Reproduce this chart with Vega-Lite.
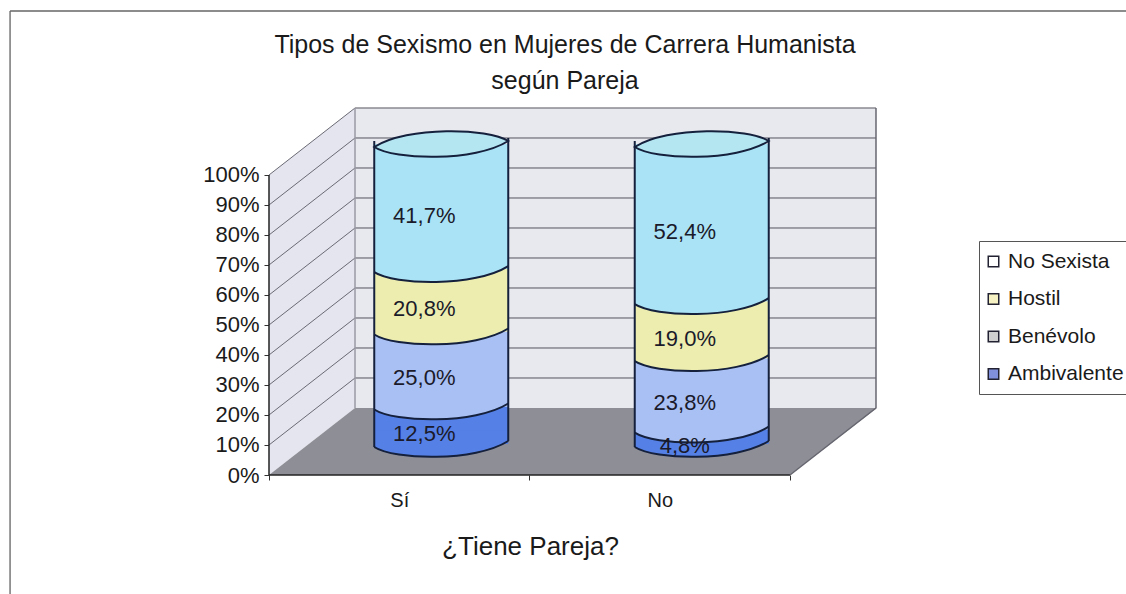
{
"$schema":"https://vega.github.io/schema/vega-lite/v6.json",
"width":608,"height":367,
"autosize":{"type":"none"},
"padding":{"left":269,"top":108,"right":249,"bottom":119},
"background":"#ffffff",
"title":{"text":["Tipos de Sexismo en Mujeres de Carrera Humanista","según  Pareja"],"font":"Liberation Sans","fontSize":25,"fontWeight":"normal","color":"#1a1a1a","anchor":"middle","frame":"group","dx":-8,"offset":0,"dy":84,"lineHeight":36},
"config":{"view":{"stroke":null},"font":"Liberation Sans"},
"datasets":{
"filas":[
{"pareja":"Sí","pos":0.5,"tipo":"Ambivalente","orden":1,"valor":12.5,"etiqueta":"12,5%"},
{"pareja":"Sí","pos":0.5,"tipo":"Benévolo","orden":2,"valor":25.0,"etiqueta":"25,0%"},
{"pareja":"Sí","pos":0.5,"tipo":"Hostil","orden":3,"valor":20.8,"etiqueta":"20,8%"},
{"pareja":"Sí","pos":0.5,"tipo":"No Sexista","orden":4,"valor":41.7,"etiqueta":"41,7%"},
{"pareja":"No","pos":1.5,"tipo":"Ambivalente","orden":1,"valor":4.8,"etiqueta":"4,8%"},
{"pareja":"No","pos":1.5,"tipo":"Benévolo","orden":2,"valor":23.8,"etiqueta":"23,8%"},
{"pareja":"No","pos":1.5,"tipo":"Hostil","orden":3,"valor":19.0,"etiqueta":"19,0%"},
{"pareja":"No","pos":1.5,"tipo":"No Sexista","orden":4,"valor":52.4,"etiqueta":"52,4%"}
],
"niveles":[{"v":10},{"v":20},{"v":30},{"v":40},{"v":50},{"v":60},{"v":70},{"v":80},{"v":90},{"v":100}],
"lateral":[{"d":0,"lo":0,"hi":100},{"d":0.33,"lo":22.33,"hi":122.33}],
"suelo":[{"d":0,"lo":0,"hi":0},{"d":0.33,"lo":0,"hi":22.33},{"d":2,"lo":0,"hi":22.33},{"d":2.334,"lo":22.33,"hi":22.33}],
"marco":[{"a":-0.994,"b":3.3,"c":154.7,"e":-39.7}]
},
"encoding":{
"x":{"type":"quantitative","title":"¿Tiene Pareja?","scale":{"domain":[0,2.334],"nice":false,"zero":false,"padding":0},"axis":{"values":[0,0.5,1,1.5,2],"title":"¿Tiene Pareja?","titleFont":"Liberation Sans","titleFontSize":26,"titleFontWeight":"normal","titleColor":"#1a1a1a","titleX":261,"titleY":71,"titleAlign":"center","titleBaseline":"middle","labelFont":"Liberation Sans","labelFontSize":20,"labelColor":"#1a1a1a","labelExpr":"datum.value==0.5?'Sí':datum.value==1.5?'No':''","labelFlush":false,"labelOverlap":false,"tickOpacity":{"condition":{"test":"datum.value==0.5||datum.value==1.5","value":0},"value":1},"tickColor":"#333333","tickSize":5,"labelPadding":10,"domain":false,"grid":false}},
"y":{"type":"quantitative","title":null,"scale":{"domain":[0,122.33],"nice":false,"zero":false},"axis":{"values":[0,10,20,30,40,50,60,70,80,90,100],"title":null,"labelFont":"Liberation Sans","labelFontSize":22,"labelColor":"#1a1a1a","labelExpr":"datum.label+'%'","labelOverlap":false,"tickColor":"#333333","tickSize":5,"labelPadding":5,"domain":false,"grid":false}}
},
"layer":[
{"data":{"name":"marco"},"mark":{"type":"rule","stroke":"#777777","strokeWidth":1.5},"encoding":{"x":{"field":"a"},"y":{"field":"e"},"y2":{"field":"c"}}},
{"data":{"name":"marco"},"mark":{"type":"rule","stroke":"#666666","strokeWidth":1.5},"encoding":{"x":{"field":"a"},"x2":{"field":"b"},"y":{"field":"c"}}},
{"data":{"name":"lateral"},"mark":{"type":"area","fill":"#e4e5ef"},"encoding":{"x":{"field":"d"},"y":{"field":"lo"},"y2":{"field":"hi"}}},
{"mark":{"type":"rect","fill":"#e8e8ef","xOffset":86,"x2Offset":86,"yOffset":-67,"y2Offset":-67},"data":{"values":[{}]},"encoding":{"x":{"datum":0},"x2":{"datum":2},"y":{"datum":0},"y2":{"datum":100}}},
{"data":{"name":"suelo"},"mark":{"type":"area","fill":"#8e8e96"},"encoding":{"x":{"field":"d"},"y":{"field":"lo"},"y2":{"field":"hi"}}},
{"data":{"name":"niveles"},"mark":{"type":"rule","stroke":"#55555f","strokeWidth":1,"xOffset":86,"x2Offset":86,"yOffset":-67},"encoding":{"x":{"datum":0},"x2":{"datum":2},"y":{"field":"v"}}},
{"data":{"name":"niveles"},"mark":{"type":"rule","stroke":"#6a6a74","strokeWidth":1,"x2Offset":86,"y2Offset":-67},"encoding":{"x":{"datum":0},"x2":{"datum":0},"y":{"field":"v"},"y2":{"field":"v"}}},
{"data":{"values":[{}]},"mark":{"type":"rule","stroke":"#9a9aa4","strokeWidth":1.5,"xOffset":86,"yOffset":-67,"y2Offset":-67},"encoding":{"x":{"datum":0},"y":{"datum":0},"y2":{"datum":100}}},
{"data":{"values":[{}]},"mark":{"type":"rule","stroke":"#666670","strokeWidth":1.5,"xOffset":86,"yOffset":-67,"y2Offset":-67},"encoding":{"x":{"datum":2},"y":{"datum":0},"y2":{"datum":100}}},
{"data":{"values":[{}]},"mark":{"type":"rule","stroke":"#222222","strokeWidth":1.5},"encoding":{"x":{"datum":0},"y":{"datum":0},"y2":{"datum":100}}},
{"data":{"values":[{}]},"mark":{"type":"rule","stroke":"#222222","strokeWidth":1.5},"encoding":{"x":{"datum":0},"x2":{"datum":2},"y":{"datum":0}}},
{"data":{"values":[{}]},"mark":{"type":"rule","stroke":"#666670","strokeWidth":1.5,"x2Offset":86,"y2Offset":-67},"encoding":{"x":{"datum":2},"x2":{"datum":2},"y":{"datum":0},"y2":{"datum":0}}},
{"data":{"name":"filas"},"mark":{"type":"point","size":0,"filled":true,"opacity":0},"encoding":{"x":{"field":"pos"},"y":{"datum":0},"color":{"field":"tipo","type":"nominal","scale":{"domain":["No Sexista","Hostil","Benévolo","Ambivalente"],"range":["#ffffff","#f6f2c4","#cfcfcf","#8090dc"]},"legend":{"title":null,"orient":"none","legendX":710,"legendY":133,"padding":10,"strokeColor":"#555555","fillColor":"#ffffff","symbolType":"square","symbolSize":110,"symbolOffset":-6,"symbolOpacity":1,"symbolStrokeColor":"#222233","symbolStrokeWidth":1.5,"labelFont":"Liberation Sans","labelFontSize":21,"labelColor":"#1a1a1a","rowPadding":15.5,"labelOffset":4,"labelLimit":200}}}},
{"data":{"name":"filas"},"transform":[{"stack":"valor","groupby":["pareja"],"sort":[{"field":"orden"}],"as":["y0","y1"]}],
 "encoding":{"x":{"field":"pos"},"y":{"field":"y0"},
  "fill":{"field":"tipo","type":"nominal","legend":null,"scale":{"domain":["Ambivalente","Benévolo","Hostil","No Sexista"],"range":["#5580e6","#a9c0f4","#ecedae","#abe3f6"]}}},
 "layer":[
  {"mark":{"type":"bar","size":134,"orient":"vertical","xOffset":42,"yOffset":-31,"y2Offset":-31},"encoding":{"y2":{"field":"y1"}}},
  {"mark":{"type":"point","filled":true,"opacity":1,"size":17956,"xOffset":42,"yOffset":-31,"shape":"M-1,0.045 C-0.7,0.24 0.5,0.27 1,-0.045 L1,-0.2 L-1,-0.2 Z"}},
  {"mark":{"type":"point","filled":false,"opacity":1,"size":17956,"xOffset":42,"yOffset":-31,"stroke":"#14203c","strokeWidth":2,"shape":"M-1,0.045 C-0.7,0.24 0.5,0.27 1,-0.045"},"encoding":{"fill":{"value":null}}},
  {"transform":[{"filter":"datum.orden==4"}],"mark":{"type":"point","filled":true,"opacity":1,"size":17956,"xOffset":42,"yOffset":-31,"stroke":"#14203c","strokeWidth":2,"shape":"M-1,0.045 C-0.7,0.24 0.5,0.27 1,-0.045 C0.7,-0.24 -0.5,-0.27 -1,0.045 Z"},"encoding":{"y":{"field":"y1"},"fill":{"value":"#b4e6f2"}}},
  {"transform":[{"filter":"datum.orden==1"}],"mark":{"type":"rule","stroke":"#14203c","strokeWidth":2,"xOffset":-25,"yOffset":-28,"y2Offset":-34},"encoding":{"fill":{"value":null},"y":{"datum":0},"y2":{"datum":100}}},
  {"transform":[{"filter":"datum.orden==1"}],"mark":{"type":"rule","stroke":"#14203c","strokeWidth":2,"xOffset":109,"yOffset":-34,"y2Offset":-37},"encoding":{"fill":{"value":null},"y":{"datum":0},"y2":{"datum":100}}}
 ]},
{"data":{"name":"filas"},"transform":[{"stack":"valor","groupby":["pareja"],"sort":[{"field":"orden"}],"as":["y0","y1"]},{"calculate":"(datum.y0+datum.y1)/2","as":"medio"}],"mark":{"type":"text","font":"Liberation Sans","fontSize":22,"color":"#1a1a2a","baseline":"middle","xOffset":25,"yOffset":-22},"encoding":{"x":{"field":"pos"},"y":{"field":"medio"},"text":{"field":"etiqueta"}}}
]
}
